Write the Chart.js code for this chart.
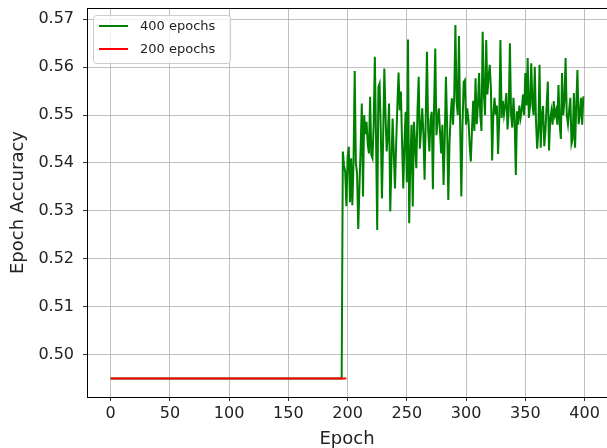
<!DOCTYPE html>
<html>
<head>
<meta charset="utf-8">
<script src="https://cdn.jsdelivr.net/npm/chart.js@4.4.0/dist/chart.umd.min.js"></script>
<style>
  html, body { margin: 0; padding: 0; background: #fff; overflow: hidden; }
</style>
</head>
<body>
<canvas id="accChart" width="607" height="448"></canvas>
<script>
// epoch accuracy, two training runs
const flatAcc = 0.495;      // accuracy before the model starts learning
const flatLen400 = 196;     // epochs 0..195 of the 400 epoch run sit at flatAcc
const flatLen200 = 200;     // the 200 epoch run never leaves flatAcc

// 400 epoch run, epochs 196..399
const acc400Tail = [
  0.5424, 0.5395, 0.5381, 0.5310, 0.5412, 0.5434, 0.5318, 0.5410, 0.5312, 0.5401,
  0.5592, 0.5400, 0.5378, 0.5262, 0.5350, 0.5430, 0.5524, 0.5330, 0.5500, 0.5460,
  0.5486, 0.5440, 0.5420, 0.5538, 0.5417, 0.5410, 0.5480, 0.5622, 0.5450, 0.5260,
  0.5559, 0.5566, 0.5470, 0.5326, 0.5450, 0.5597, 0.5500, 0.5424, 0.5460, 0.5524,
  0.5299, 0.5400, 0.5493, 0.5420, 0.5347, 0.5440, 0.5520, 0.5589, 0.5510, 0.5549,
  0.5440, 0.5347, 0.5444, 0.5507, 0.5360, 0.5658, 0.5274, 0.5410, 0.5480, 0.5309,
  0.5486, 0.5440, 0.5389, 0.5510, 0.5580, 0.5430, 0.5470, 0.5514, 0.5460, 0.5365,
  0.5500, 0.5632, 0.5470, 0.5424, 0.5490, 0.5507, 0.5345, 0.5520, 0.5639, 0.5458,
  0.5490, 0.5514, 0.5465, 0.5420, 0.5480, 0.5354, 0.5450, 0.5580, 0.5480, 0.5323,
  0.5440, 0.5500, 0.5535, 0.5480, 0.5540, 0.5688, 0.5528, 0.5500, 0.5665, 0.5480,
  0.5330, 0.5480, 0.5569, 0.5573, 0.5480, 0.5514, 0.5490, 0.5440, 0.5403, 0.5470,
  0.5530, 0.5467, 0.5577, 0.5481, 0.5520, 0.5588, 0.5500, 0.5467, 0.5674, 0.5546,
  0.5500, 0.5657, 0.5543, 0.5580, 0.5605, 0.5553, 0.5405, 0.5500, 0.5536, 0.5501,
  0.5520, 0.5419, 0.5490, 0.5657, 0.5494, 0.5530, 0.5501, 0.5520, 0.5546, 0.5470,
  0.5510, 0.5650, 0.5500, 0.5474, 0.5536, 0.5490, 0.5375, 0.5508, 0.5480, 0.5520,
  0.5494, 0.5510, 0.5543, 0.5500, 0.5588, 0.5520, 0.5619, 0.5494, 0.5520, 0.5608,
  0.5522, 0.5500, 0.5601, 0.5488, 0.5430, 0.5467, 0.5605, 0.5432, 0.5500, 0.5519,
  0.5435, 0.5467, 0.5520, 0.5570, 0.5426, 0.5490, 0.5508, 0.5480, 0.5529, 0.5500,
  0.5510, 0.5480, 0.5563, 0.5481, 0.5450, 0.5588, 0.5500, 0.5529, 0.5619, 0.5500,
  0.5481, 0.5510, 0.5536, 0.5440, 0.5450, 0.5546, 0.5432, 0.5520, 0.5594, 0.5481,
  0.5500, 0.5536, 0.5480, 0.5539
];

const acc400 = new Array(flatLen400).fill(flatAcc).concat(acc400Tail);
const acc200 = new Array(flatLen200).fill(flatAcc);

const xTicks = [0, 50, 100, 150, 200, 250, 300, 350, 400];
const yTicks = [0.50, 0.51, 0.52, 0.53, 0.54, 0.55, 0.56, 0.57];
const seriesNames = ['400 epochs', '200 epochs'];
const seriesColors = ['#008000', '#ff0000'];

const FONT = 'DejaVu Sans';
const toPoints = arr => arr.map((v, i) => ({ x: i, y: v }));

// matplotlib-like legend box in the upper left of the plot
const innerLegend = {
  id: 'innerLegend',
  afterDatasetsDraw(chart) {
    const { ctx, chartArea } = chart;
    const x0 = chartArea.left + 6, y0 = chartArea.top + 7;
    const w = 137, h = 48, r = 3;
    ctx.save();
    ctx.beginPath();
    ctx.roundRect(x0 + 0.5, y0 + 0.5, w, h, r);
    ctx.fillStyle = 'rgba(255,255,255,0.8)';
    ctx.fill();
    ctx.strokeStyle = '#cccccc';
    ctx.lineWidth = 1;
    ctx.stroke();
    ctx.font = '13px "' + FONT + '"';
    ctx.textBaseline = 'middle';
    chart.data.datasets.forEach((ds, i) => {
      const y = y0 + 11 + i * 23;
      ctx.strokeStyle = ds.borderColor;
      ctx.lineWidth = 2;
      ctx.beginPath();
      ctx.moveTo(x0 + 6, y);
      ctx.lineTo(x0 + 35, y);
      ctx.stroke();
      ctx.fillStyle = '#222';
      ctx.fillText(ds.label, x0 + 47, y + 1);
    });
    ctx.restore();
  }
};

// top spine (the right one falls just outside the canvas)
const frame = {
  id: 'frame',
  afterDraw(chart) {
    const { ctx, chartArea } = chart;
    ctx.save();
    ctx.strokeStyle = '#000';
    ctx.lineWidth = 1;
    ctx.beginPath();
    ctx.moveTo(chartArea.left, chartArea.top + 0.5);
    ctx.lineTo(chart.width, chartArea.top + 0.5);
    ctx.stroke();
    ctx.restore();
  }
};

new Chart(document.getElementById('accChart').getContext('2d'), {
  type: 'line',
  data: {
    datasets: [
      { label: seriesNames[0], data: toPoints(acc400), borderColor: seriesColors[0], borderWidth: 2, order: 1 },
      { label: seriesNames[1], data: toPoints(acc200), borderColor: seriesColors[1], borderWidth: 2, order: 0 }
    ]
  },
  options: {
    responsive: false,
    animation: false,
    layout: { padding: { top: 8, right: -3, left: 0, bottom: 0 } },
    elements: { point: { radius: 0 }, line: { tension: 0, fill: false } },
    plugins: { legend: { display: false }, tooltip: { enabled: false } },
    scales: {
      x: {
        type: 'linear',
        min: -19.95,
        max: 418.95,
        afterFit: s => { s.height = 51; s.paddingLeft = 0; s.paddingRight = 0; },
        afterBuildTicks: s => { s.ticks = xTicks.map(v => ({ value: v })); },
        grid: { color: '#b0b0b0', lineWidth: 0.8, tickColor: '#000', tickLength: 4 },
        border: { color: '#000', width: 1 },
        ticks: {
          color: '#222', font: { family: FONT, size: 16 }, padding: 3,
          maxRotation: 0, autoSkip: false, callback: v => String(v)
        },
        title: {
          display: true, text: 'Epoch', color: '#222',
          font: { family: FONT, size: 18 }, padding: { top: 0, bottom: -2 }
        }
      },
      y: {
        min: 0.49114,
        max: 0.57236,
        afterFit: s => { s.width = 87; s.paddingTop = 0; s.paddingBottom = 0; },
        afterBuildTicks: s => { s.ticks = yTicks.map(v => ({ value: v })); },
        grid: { color: '#b0b0b0', lineWidth: 0.8, tickColor: '#000', tickLength: 4 },
        border: { color: '#000', width: 1 },
        ticks: {
          color: '#222', font: { family: FONT, size: 16 }, padding: 9,
          autoSkip: false, callback: v => v.toFixed(2)
        },
        title: {
          display: true, text: 'Epoch Accuracy', color: '#222',
          font: { family: FONT, size: 18 }, padding: { top: 8, bottom: 0 }
        }
      }
    }
  },
  plugins: [innerLegend, frame]
});
</script>
</body>
</html>
